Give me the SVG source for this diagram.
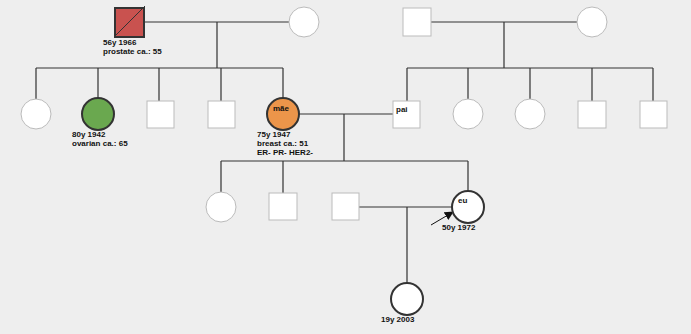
<svg xmlns="http://www.w3.org/2000/svg" width="691" height="334" viewBox="0 0 691 334">
<defs>
<style>
.bg{fill:#eeeeee}
.ln{stroke:#333;stroke-width:1.2;fill:none}
.lt{fill:#fff;stroke:#bbb;stroke-width:1}
.dk{stroke:#333;stroke-width:2}
text{font-family:"Liberation Sans",Arial,sans-serif;font-size:8px;font-weight:bold;fill:#111}
</style>
<marker id="ah" viewBox="0 0 10 10" refX="9" refY="5" markerWidth="9" markerHeight="9" markerUnits="userSpaceOnUse" orient="auto">
<path d="M0,0 L10,5 L0,10 z" fill="#111"/>
</marker>
</defs>
<rect class="bg" x="0" y="0" width="691" height="334"/>
<g id="connectors">
<path class="ln" d="M144,22 H289 M217,22 V68 M36,68 H283 M36,68 V99 M98,68 V98 M159,68 V101 M221,68 V101 M283,68 V98"/>
<path class="ln" d="M431,22 H577 M504,22 V68 M407,68 H653 M407,68 V101 M468,68 V99 M530,68 V99 M592,68 V101 M653,68 V101"/>
<path class="ln" d="M299,114 H393 M344,114 V161 M221,161 H468 M221,161 V192 M283,161 V193 M468,161 V191"/>
<path class="ln" d="M359,207 H452 M407,207 V283"/>
<line x1="431" y1="225" x2="453" y2="212" stroke="#111" stroke-width="1" marker-end="url(#ah)"/>
</g>
<g id="pgf">
<rect x="115" y="8" width="29" height="29" fill="#c9524f" class="dk"/>
<line x1="114" y1="37" x2="145" y2="6" stroke="#333" stroke-width="1"/>
<text x="103" y="45">56y 1966</text>
<text x="103" y="54">prostate ca.: 55</text>
</g>
<g id="pgm"><circle cx="304" cy="22" r="15" class="lt"/></g>
<g id="s1"><circle cx="36" cy="114" r="15" class="lt"/></g>
<g id="s2">
<circle cx="98" cy="114" r="16" fill="#6aa84f" class="dk"/>
<text x="72" y="137">80y 1942</text>
<text x="72" y="146">ovarian ca.: 65</text>
</g>
<g id="s3"><rect x="147" y="101" width="27" height="27" class="lt"/></g>
<g id="s4"><rect x="208" y="101" width="27" height="27" class="lt"/></g>
<g id="mae">
<circle cx="283" cy="114" r="16" fill="#ec954a" class="dk"/>
<text x="273" y="111">mãe</text>
<text x="257" y="137">75y 1947</text>
<text x="257" y="146">breast ca.: 51</text>
<text x="257" y="155">ER- PR- HER2-</text>
</g>
<g id="fgf"><rect x="403" y="8" width="28" height="28" class="lt"/></g>
<g id="fgm"><circle cx="592" cy="22" r="15" class="lt"/></g>
<g id="pai">
<rect x="393" y="101" width="27" height="27" class="lt"/>
<text x="396" y="112">pai</text>
</g>
<g id="f2"><circle cx="468" cy="114" r="15" class="lt"/></g>
<g id="f3"><circle cx="530" cy="114" r="15" class="lt"/></g>
<g id="f4"><rect x="578" y="101" width="28" height="27" class="lt"/></g>
<g id="f5"><rect x="640" y="101" width="27" height="27" class="lt"/></g>
<g id="c1"><circle cx="221" cy="207" r="15" class="lt"/></g>
<g id="c2"><rect x="269" y="193" width="28" height="27" class="lt"/></g>
<g id="spouse"><rect x="332" y="193" width="27" height="27" class="lt"/></g>
<g id="eu">
<circle cx="468" cy="207" r="16" fill="#fff" class="dk"/>
<text x="458" y="203">eu</text>
<text x="442" y="230">50y 1972</text>
</g>
<g id="child">
<circle cx="407" cy="299" r="16" fill="#fff" class="dk"/>
<text x="381" y="322">19y 2003</text>
</g>
</svg>
